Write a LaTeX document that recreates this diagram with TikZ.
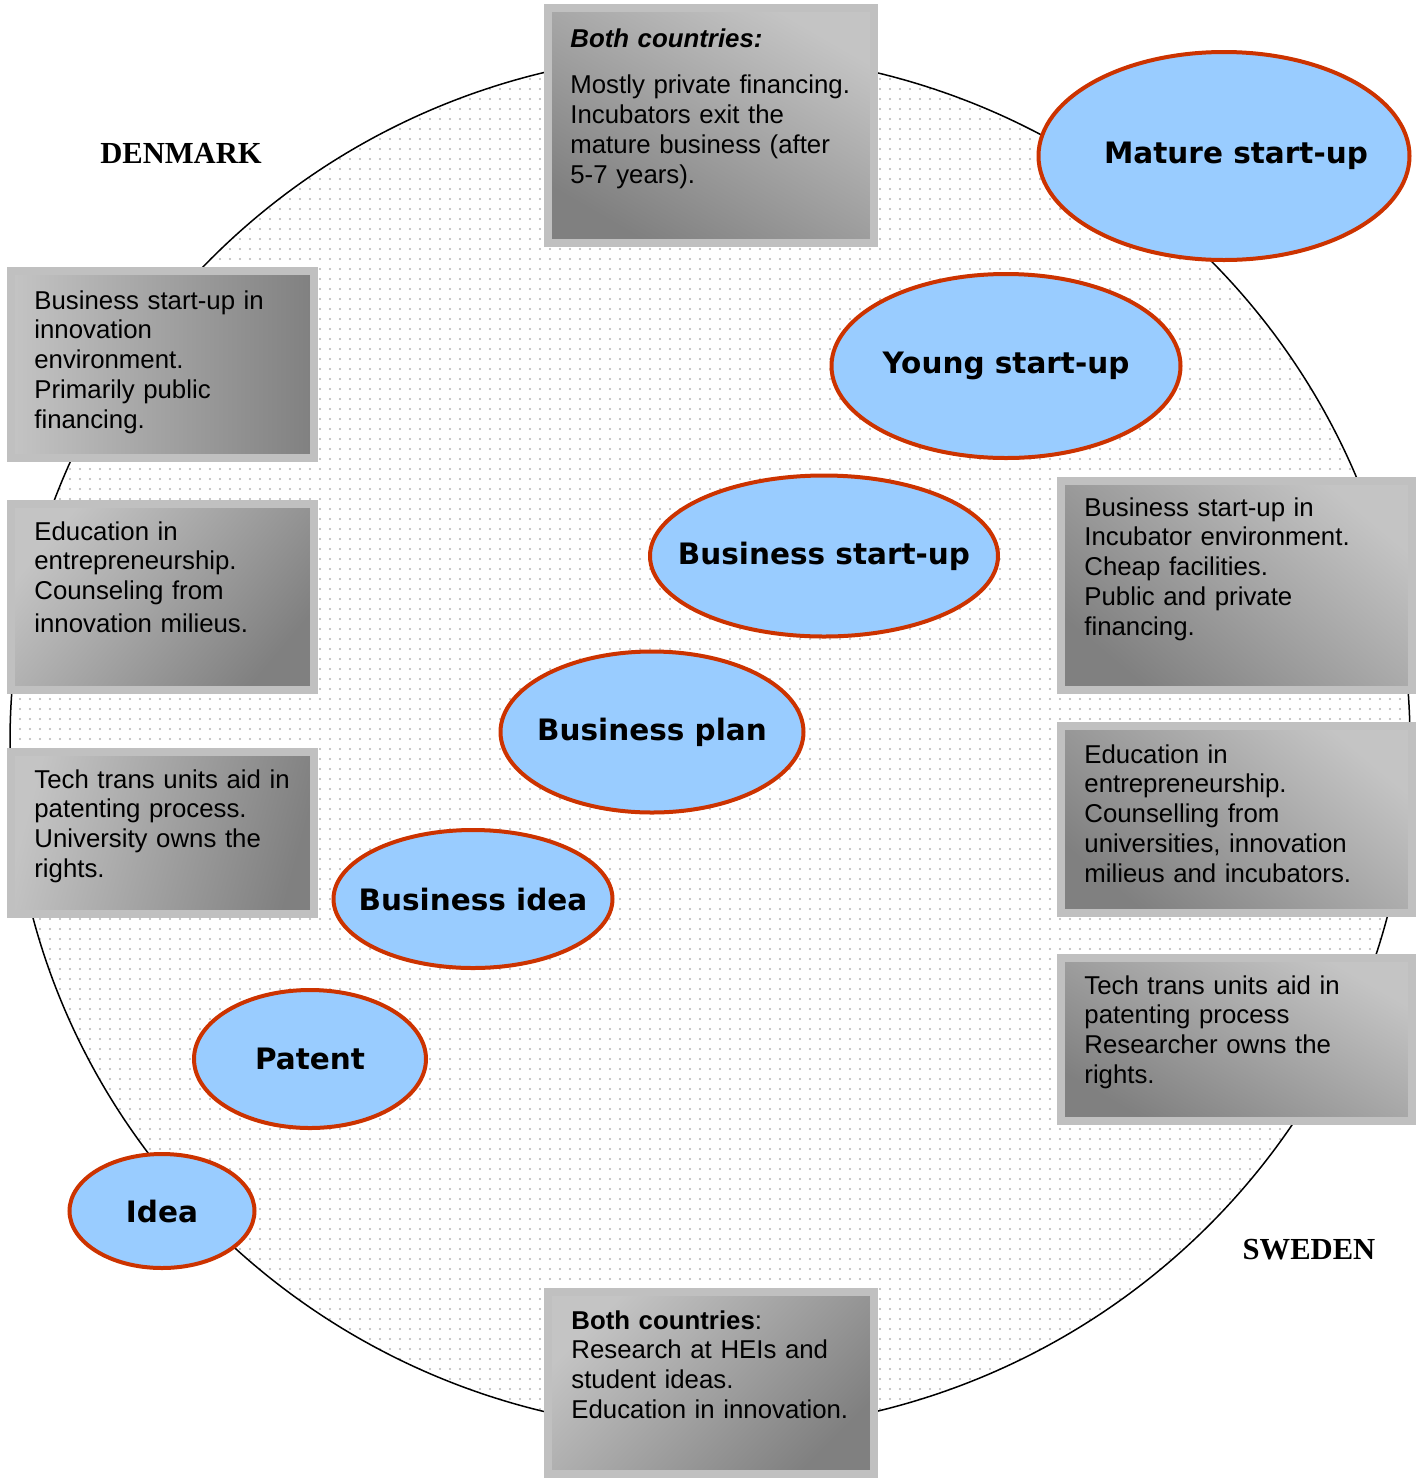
\documentclass[tikz,border=0pt]{standalone}
\usepackage{fontspec}
\setmainfont{Liberation Sans}
\newfontfamily\stagefont{DejaVu Sans}
\newfontfamily\countryfont{Liberation Serif}
\usetikzlibrary{shapes.geometric,patterns.meta}
\definecolor{stageblue}{HTML}{99CCFF}
\definecolor{stagered}{HTML}{CC3300}
\definecolor{rimgray}{HTML}{C0C0C0}
\definecolor{boxlight}{HTML}{C4C4C4}
\definecolor{boxdark}{HTML}{808080}
\definecolor{dotgray}{HTML}{B4B4B4}
\newcommand{\stg}[1]{\makebox[0pt]{#1}}

\begin{document}
\begin{tikzpicture}[x=0.5pt,y=-0.5pt,
  stage/.style={ellipse,draw=stagered,line width=2pt,fill=stageblue,inner sep=0pt,
    font=\stagefont\bfseries\fontsize{14.75}{17}\selectfont},
  infobox/.style={rectangle,draw=rimgray,line width=4pt,top color=boxlight,
    bottom color=boxdark,shading angle=#1,inner sep=0pt},
  boxtext/.style={anchor=north west,inner sep=0pt,text width=165pt,align=left,
    font=\fontsize{12.9}{14.9}\selectfont},
  country/.style={font=\countryfont\bfseries\fontsize{15.3}{18}\selectfont}]
  \useasboundingbox (0,0) rectangle (1418,1479);
  % the cycle
  \draw[line width=0.75pt,pattern={Dots[radius=0.6pt,distance=5pt]},pattern color=dotgray]
    (710,742) ellipse [x radius=700, y radius=689];
  \node[country] (dk) at (181,153) {DENMARK};
  \node[country] (se) at (1309,1250) {SWEDEN};
  % text boxes
  \node[infobox=-30,minimum width=163pt,minimum height=117.5pt] (top) at (711,125.5) {};
  \node[infobox=90,minimum width=151.5pt,minimum height=93.5pt] (dk1) at (162.5,364.5) {};
  \node[infobox=50,minimum width=151.5pt,minimum height=93pt] (dk2) at (162.5,597) {};
  \node[infobox=75,minimum width=151.5pt,minimum height=81pt] (dk3) at (162.5,833) {};
  \node[infobox=-40,minimum width=175.5pt,minimum height=104.5pt] (se1) at (1236.5,585.5) {};
  \node[infobox=-40,minimum width=175.5pt,minimum height=93.5pt] (se2) at (1236.5,819.5) {};
  \node[infobox=-30,minimum width=175.5pt,minimum height=81.5pt] (se3) at (1236.5,1039.5) {};
  \node[infobox=45,minimum width=163pt,minimum height=91pt] (bot) at (711,1383) {};
  \node[boxtext] (toptxt) at (570,28) {\textbf{\textit{Both countries:}}\\[8.5pt]
    Mostly private financing.\\ Incubators exit the\\ mature business (after\\ 5-7 years).};
  \node[boxtext] (dk1txt) at (34,290) {Business start-up in\\ innovation\\ environment.\\
    Primarily public\\ financing.};
  \node[boxtext] (dk2txt) at (34,521) {Education in\\ entrepreneurship.\\ Counseling from\\[1.6pt]
    innovation milieus.};
  \node[boxtext] (dk3txt) at (34,769) {Tech trans units aid in\\ patenting process.\\
    University owns the\\ rights.};
  \node[boxtext] (se1txt) at (1084,497) {Business start-up in\\ Incubator environment.\\
    Cheap facilities.\\ Public and private\\ financing.};
  \node[boxtext] (se2txt) at (1084,744) {Education in\\ entrepreneurship.\\ Counselling from\\
    universities, innovation\\ milieus and incubators.};
  \node[boxtext] (se3txt) at (1084,975) {Tech trans units aid in\\ patenting process\\
    Researcher owns the\\ rights.};
  \node[boxtext] (bottxt) at (571,1310) {\textbf{Both countries}:\\ Research at HEIs and\\
    student ideas.\\ Education in innovation.};
  % stages
  \node[stage,minimum width=185.5pt,minimum height=104pt] (mature) at (1224,156) {\stg{\raisebox{-2pt}{\hspace*{12pt}Mature start-up}}};
  \node[stage,minimum width=174.5pt,minimum height=92pt] (young) at (1006,366) {\stg{Young start-up}};
  \node[stage,minimum width=174pt,minimum height=80.5pt] (bsu) at (824,556) {\stg{Business start-up}};
  \node[stage,minimum width=151.5pt,minimum height=80.5pt] (plan) at (652,732) {\stg{Business plan}};
  \node[stage,minimum width=139.5pt,minimum height=69pt] (bidea) at (473,899) {\stg{Business idea}};
  \node[stage,minimum width=116pt,minimum height=69pt] (patent) at (310,1059) {\stg{Patent}};
  \node[stage,minimum width=92.5pt,minimum height=57pt] (idea) at (162,1211) {\stg{Idea}};
\end{tikzpicture}
\end{document}
